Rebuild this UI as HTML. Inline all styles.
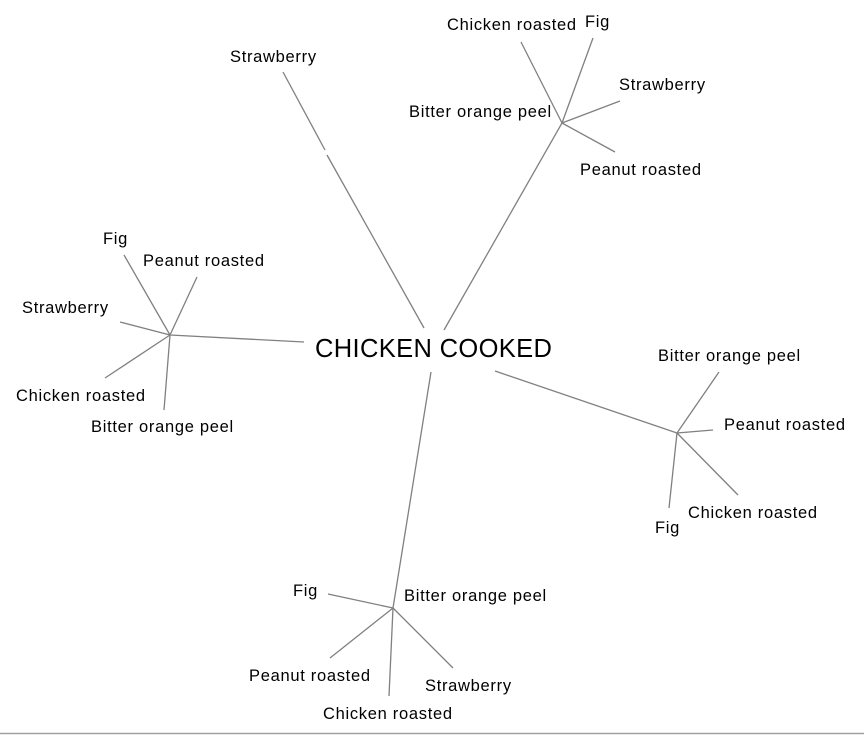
<!DOCTYPE html>
<html><head><style>
html,body{margin:0;padding:0;background:#fff;}
svg{display:block;}
text{font-family:"Liberation Sans",Arial,sans-serif;font-size:16.5px;fill:#000;letter-spacing:0.7px;}
line{stroke:#808080;stroke-width:1.3;}
</style></head><body>
<svg width="864" height="736" viewBox="0 0 864 736">
<line x1="283" y1="72" x2="325" y2="150"/>
<line x1="327" y1="155" x2="424" y2="328"/>
<line x1="444" y1="330" x2="562" y2="123"/>
<line x1="304" y1="342" x2="170" y2="335"/>
<line x1="495" y1="371" x2="677" y2="433"/>
<line x1="431" y1="372" x2="393" y2="608"/>
<line x1="562" y1="123" x2="521" y2="42"/>
<line x1="562" y1="123" x2="593" y2="38"/>
<line x1="562" y1="123" x2="620" y2="101"/>
<line x1="562" y1="123" x2="615" y2="152"/>
<line x1="170" y1="335" x2="124" y2="255"/>
<line x1="170" y1="335" x2="197" y2="277"/>
<line x1="170" y1="335" x2="120" y2="322"/>
<line x1="170" y1="335" x2="105" y2="378"/>
<line x1="170" y1="335" x2="164" y2="410"/>
<line x1="677" y1="433" x2="719" y2="372"/>
<line x1="677" y1="433" x2="713" y2="430"/>
<line x1="677" y1="433" x2="738" y2="495"/>
<line x1="677" y1="433" x2="669" y2="508"/>
<line x1="393" y1="608" x2="328" y2="594"/>
<line x1="393" y1="608" x2="330" y2="658"/>
<line x1="393" y1="608" x2="389" y2="696"/>
<line x1="393" y1="608" x2="453" y2="668"/>
<line x1="0" y1="733.5" x2="864" y2="733.5" style="stroke:#a0a0a0;stroke-width:1.5"/>

<text x="315" y="357" style="font-size:25.5px;letter-spacing:0.35px">CHICKEN COOKED</text>

<text x="230" y="62">Strawberry</text>
<text x="447" y="30">Chicken roasted</text>
<text x="585" y="27">Fig</text>
<text x="619" y="90">Strawberry</text>
<text x="409" y="117">Bitter orange peel</text>
<text x="580" y="175">Peanut roasted</text>

<text x="103" y="244">Fig</text>
<text x="143" y="266">Peanut roasted</text>
<text x="22" y="313">Strawberry</text>
<text x="16" y="401">Chicken roasted</text>
<text x="91" y="432">Bitter orange peel</text>

<text x="658" y="361">Bitter orange peel</text>
<text x="724" y="430">Peanut roasted</text>
<text x="688" y="518">Chicken roasted</text>
<text x="655" y="533">Fig</text>

<text x="293" y="596">Fig</text>
<text x="404" y="601">Bitter orange peel</text>
<text x="249" y="681">Peanut roasted</text>
<text x="425" y="691">Strawberry</text>
<text x="323" y="719">Chicken roasted</text>
</svg>
</body></html>
